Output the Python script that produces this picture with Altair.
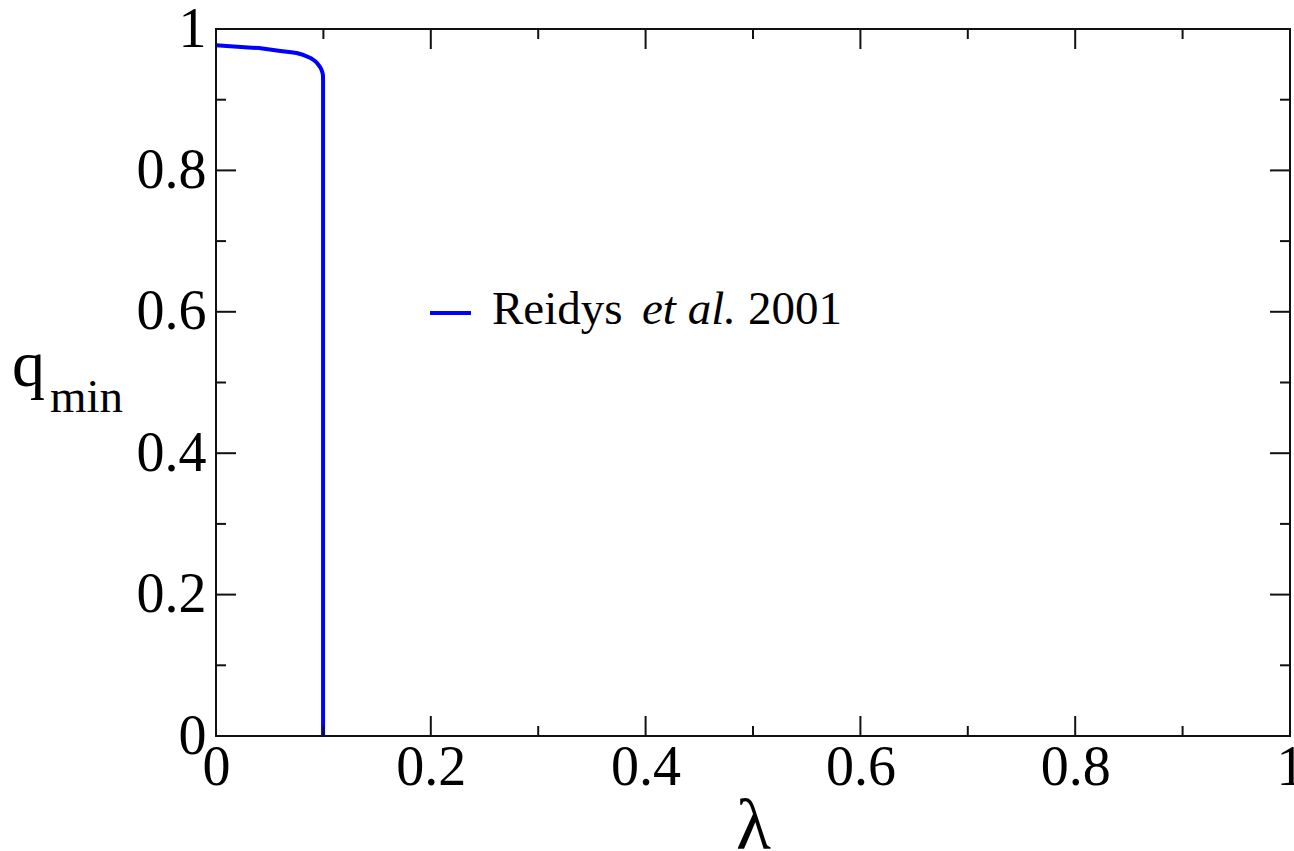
import altair as alt
import pandas as pd

# q_min versus lambda (Reidys et al. 2001)
lam = [0.0, 0.01, 0.02, 0.03, 0.04, 0.05, 0.06, 0.07, 0.075, 0.08,
       0.085, 0.088, 0.09, 0.092, 0.094, 0.0955, 0.097, 0.098, 0.0988,
       0.0993, 0.0996, 0.0997, 0.0997]
qmin = [0.977, 0.976, 0.975, 0.974, 0.973, 0.971, 0.969, 0.967, 0.966, 0.964,
        0.961, 0.959, 0.957, 0.955, 0.952, 0.949, 0.946, 0.943, 0.940,
        0.937, 0.934, 0.926, 0.0]

major_ticks = [0.0, 0.2, 0.4, 0.6, 0.8, 1.0]
minor_ticks = [0.1, 0.3, 0.5, 0.7, 0.9]

legend_parts = ["Reidys", "et al.", "2001"]
y_title = ["q", "min"]
x_title = "λ"

W, H = 1074, 707
FONT = "Liberation Serif"
INK = "#111111"

curve = pd.DataFrame({"lam": lam, "q": qmin, "i": range(len(lam))})
major = pd.DataFrame({"v": major_ticks})
minor = pd.DataFrame({"v": minor_ticks})

xscale = alt.Scale(domain=[0, 1], nice=False, zero=False)
yscale = alt.Scale(domain=[0, 1], nice=False, zero=False)

xaxis = alt.Axis(values=major_ticks, format="~g", ticks=False, domain=False, grid=False,
                 labelFont=FONT, labelFontSize=56, labelColor="black", labelPadding=4,
                 labelFlush=False, labelOverlap=False,
                 title=x_title, titleFont=FONT, titleFontSize=72, titleFontWeight="normal",
                 titleColor="black", titleY=112, titleBaseline="alphabetic")
yaxis = alt.Axis(values=major_ticks, format="~g", ticks=False, domain=False, grid=False,
                 labelFont=FONT, labelFontSize=56, labelColor="black", labelPadding=10,
                 labelFlush=False, labelOverlap=False, title=None)

line = alt.Chart(curve).mark_line(color="#0000ff", strokeWidth=4, strokeJoin="round").encode(
    x=alt.X("lam:Q", scale=xscale, axis=xaxis),
    y=alt.Y("q:Q", scale=yscale, axis=yaxis),
    order="i:O",
)


def xticks(df, length):
    bottom = alt.Chart(df).mark_rule(color=INK, strokeWidth=2).encode(
        x=alt.X("v:Q", scale=xscale), y=alt.value(H), y2=alt.value(H - length))
    top = alt.Chart(df).mark_rule(color=INK, strokeWidth=2).encode(
        x=alt.X("v:Q", scale=xscale), y=alt.value(0), y2=alt.value(length))
    return [bottom, top]


def yticks(df, length):
    left = alt.Chart(df).mark_rule(color=INK, strokeWidth=2).encode(
        y=alt.Y("v:Q", scale=yscale), x=alt.value(0), x2=alt.value(length))
    right = alt.Chart(df).mark_rule(color=INK, strokeWidth=2).encode(
        y=alt.Y("v:Q", scale=yscale), x=alt.value(W), x2=alt.value(W - length))
    return [left, right]


ticks = xticks(major, 20) + xticks(minor, 10) + yticks(major, 20) + yticks(minor, 10)

# legend entry
leg_df = pd.DataFrame({"t": legend_parts})
leg_line = alt.Chart(leg_df.head(1)).mark_rule(color="#0000ff", strokeWidth=4).encode(
    x=alt.value(214), x2=alt.value(255), y=alt.value(284))
leg_texts = []
for idx, (xpos, style) in enumerate([(276, "normal"), (426, "italic"), (532, "normal")]):
    leg_texts.append(
        alt.Chart(leg_df.iloc[[idx]]).mark_text(
            font=FONT, fontSize=47, fontStyle=style, align="left",
            baseline="alphabetic", color="black",
        ).encode(x=alt.value(xpos), y=alt.value(295), text="t:N")
    )

# y-axis title with subscript
yt_df = pd.DataFrame({"t": y_title})
yt_main = alt.Chart(yt_df.iloc[[0]]).mark_text(
    font=FONT, fontSize=66, align="left", baseline="alphabetic", color="black"
).encode(x=alt.value(-204), y=alt.value(357), text="t:N")
yt_sub = alt.Chart(yt_df.iloc[[1]]).mark_text(
    font=FONT, fontSize=47, align="left", baseline="alphabetic", color="black"
).encode(x=alt.value(-166), y=alt.value(383), text="t:N")

chart = alt.layer(line, *ticks, leg_line, *leg_texts, yt_main, yt_sub).properties(
    width=W, height=H,
    autosize=alt.AutoSizeParams(type="none"),
    padding={"left": 216, "top": 29, "right": 4, "bottom": 115},
    background="white",
).configure_view(stroke=INK, strokeWidth=2)

chart.save("out.html", embed_options={"renderer": "svg", "actions": False})
